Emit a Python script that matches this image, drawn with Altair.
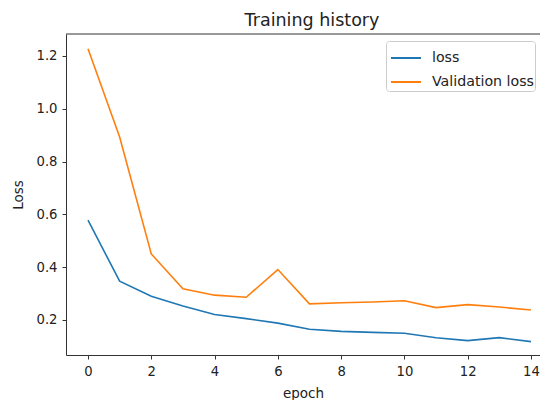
import altair as alt
import pandas as pd

epochs = list(range(15))
loss = [0.578, 0.347, 0.290, 0.253, 0.221, 0.205, 0.188, 0.165, 0.157, 0.153, 0.150, 0.133, 0.122, 0.133, 0.118]
val_loss = [1.227, 0.893, 0.450, 0.318, 0.294, 0.286, 0.391, 0.261, 0.265, 0.268, 0.273, 0.247, 0.258, 0.249, 0.238]
series = ["loss", "Validation loss"]
colors = ["#1f77b4", "#ff7f0e"]

rows = []
for e, l, v in zip(epochs, loss, val_loss):
    rows.append({"epoch": e, "value": l, "series": series[0]})
    rows.append({"epoch": e, "value": v, "series": series[1]})
df = pd.DataFrame(rows)

FONT = "DejaVu Sans"
TXT = "#222222"
AX = "#333333"
W = 474
H = 321
PXU = 31.64
XMIN = -22 / PXU

lines = alt.Chart(df).mark_line(strokeWidth=1.6, clip=True).encode(
    x=alt.X("epoch:Q",
            scale=alt.Scale(domain=[XMIN, XMIN + W / PXU], nice=False, zero=False),
            axis=alt.Axis(values=[0, 2, 4, 6, 8, 10, 12, 14], title="epoch",
                          grid=False, tickSize=4, labelPadding=6, labelFontSize=13.2,
                          titleFontSize=13.5, titleFontWeight="normal", titlePadding=9,
                          domainColor=AX, tickColor=AX, labelColor=TXT, titleColor=TXT,
                          labelFont=FONT, titleFont=FONT, labelFlush=False)),
    y=alt.Y("value:Q",
            scale=alt.Scale(domain=[0.0674, 1.283], nice=False, zero=False),
            axis=alt.Axis(values=[0.2, 0.4, 0.6, 0.8, 1.0, 1.2], format=".1f", title="Loss",
                          grid=False, tickSize=4, labelPadding=5, labelFontSize=13.2,
                          titleFontSize=13.5, titleFontWeight="normal", titlePadding=11,
                          domainColor=AX, tickColor=AX, labelColor=TXT, titleColor=TXT,
                          labelFont=FONT, titleFont=FONT, labelFlush=False)),
    color=alt.Color("series:N",
                    scale=alt.Scale(domain=series, range=colors),
                    legend=alt.Legend(title=None, orient="none", legendX=320, legendY=7,
                                      symbolType="stroke", symbolSize=900, symbolOffset=3,
                                      symbolStrokeWidth=2, labelFontSize=14.2,
                                      labelFont=FONT, labelColor=TXT, rowPadding=-9,
                                      padding=1, fillColor="white", strokeColor="#cccccc",
                                      cornerRadius=3, labelOffset=10)),
)

top_border = alt.Chart(pd.DataFrame({"y": [1.283]})).mark_rule(color=AX, strokeWidth=1).encode(
    y=alt.Y("y:Q"), x=alt.value(0), x2=alt.value(W)
)

chart = alt.layer(lines, top_border).properties(
    width=W, height=H,
    title=alt.TitleParams("Training history", fontSize=17.5, font=FONT, fontWeight="normal",
                          color=TXT, anchor="middle", dx=9, offset=4),
    autosize=alt.AutoSizeParams(type="none"),
    padding={"left": 58, "top": 26, "right": 0, "bottom": 45},
).configure_view(stroke=None)

chart.save("out.html", embed_options={"renderer": "svg", "actions": False})
